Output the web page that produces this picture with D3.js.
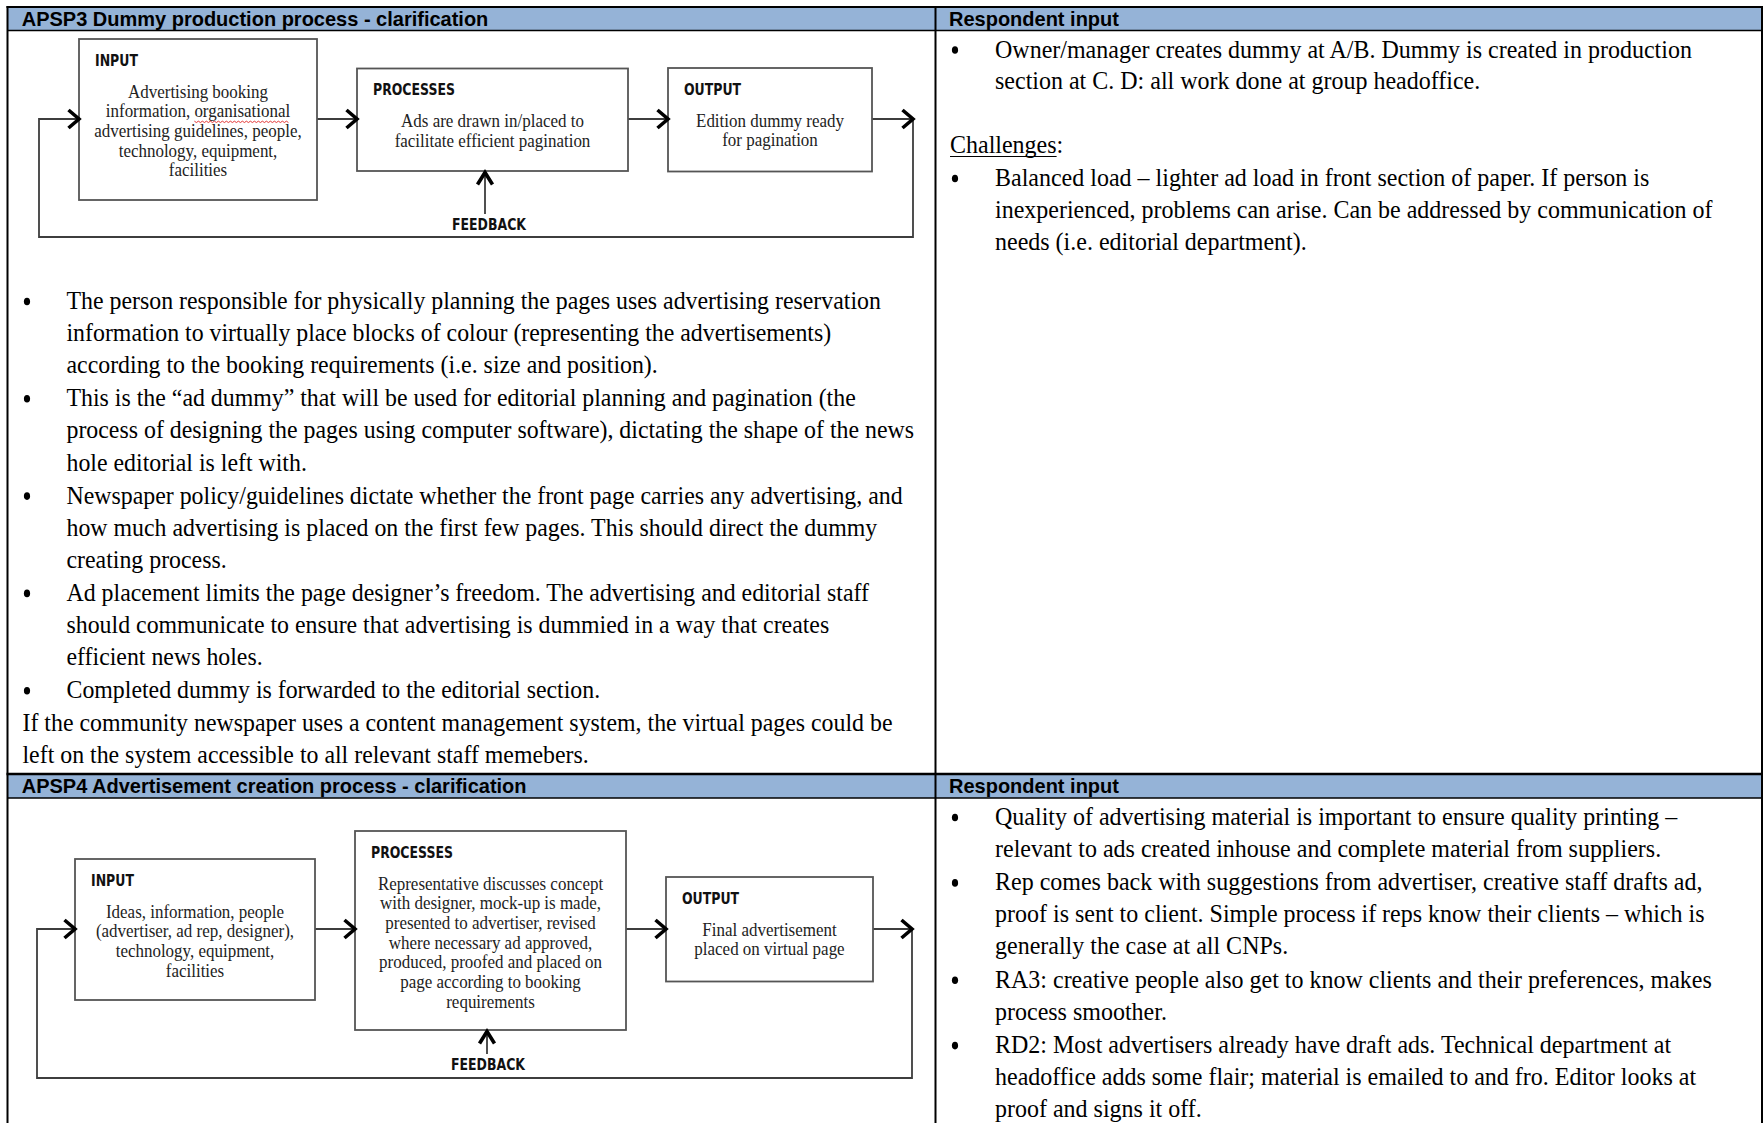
<!DOCTYPE html>
<html><head><meta charset="utf-8">
<script src="https://cdn.jsdelivr.net/npm/d3@7"></script>
<style>html,body{margin:0;padding:0;background:#fff;overflow:hidden}</style>
</head><body>
<svg id="c" width="1763" height="1123"></svg>
<script>
// ---------------- DATA (text content) ----------------
const sectionTitles = ["APSP3 Dummy production process - clarification",
                       "APSP4 Advertisement creation process - clarification"];
const respondentTitle = "Respondent input";
const boxTitles = ["INPUT", "PROCESSES", "OUTPUT"];
const feedbackLabel = "FEEDBACK";

const d1Input = ["Advertising booking", "information, organisational", "advertising guidelines, people,",
                 "technology, equipment,", "facilities"];
const d1Process = ["Ads are drawn in/placed to", "facilitate efficient pagination"];
const d1Output = ["Edition dummy ready", "for pagination"];

const d2Input = ["Ideas, information, people", "(advertiser, ad rep, designer),", "technology, equipment,", "facilities"];
const d2Process = ["Representative discusses concept", "with designer, mock-up is made,", "presented to advertiser, revised",
                   "where necessary ad approved,", "produced, proofed and placed on", "page according to booking",
                   "requirements"];
const d2Output = ["Final advertisement", "placed on virtual page"];

const s1Bullets = [
  ["The person responsible for physically planning the pages uses advertising reservation",
   "information to virtually place blocks of colour (representing the advertisements)",
   "according to the booking requirements (i.e. size and position)."],
  ["This is the \u201cad dummy\u201d that will be used for editorial planning and pagination (the",
   "process of designing the pages using computer software), dictating the shape of the news",
   "hole editorial is left with."],
  ["Newspaper policy/guidelines dictate whether the front page carries any advertising, and",
   "how much advertising is placed on the first few pages. This should direct the dummy",
   "creating process."],
  ["Ad placement limits the page designer\u2019s freedom. The advertising and editorial staff",
   "should communicate to ensure that advertising is dummied in a way that creates",
   "efficient news holes."],
  ["Completed dummy is forwarded to the editorial section."]
];
const s1Note = ["If the community newspaper uses a content management system, the virtual pages could be",
                "left on the system accessible to all relevant staff memebers."];

const r1Intro = [["Owner/manager creates dummy at A/B. Dummy is created in production",
                  "section at C. D: all work done at group headoffice."]];
const r1ChallengesLabel = "Challenges";
const r1Challenges = [["Balanced load \u2013 lighter ad load in front section of paper. If person is",
                       "inexperienced, problems can arise. Can be addressed by communication of",
                       "needs (i.e. editorial department)."]];

const r2Bullets = [
  ["Quality of advertising material is important to ensure quality printing \u2013",
   "relevant to ads created inhouse and complete material from suppliers."],
  ["Rep comes back with suggestions from advertiser, creative staff drafts ad,",
   "proof is sent to client. Simple process if reps know their clients \u2013 which is",
   "generally the case at all CNPs."],
  ["RA3: creative people also get to know clients and their preferences, makes",
   "process smoother."],
  ["RD2: Most advertisers already have draft ads. Technical department at",
   "headoffice adds some flair; material is emailed to and fro. Editor looks at",
   "proof and signs it off."]
];

// ---------------- STYLE / LAYOUT ----------------
const SERIF = "'Liberation Serif','Times New Roman',serif";
const SANS = "'Liberation Sans',Arial,sans-serif";
const COND = "'Liberation Sans Narrow','DejaVu Sans Condensed','Arial Narrow',sans-serif";
const HEADER_FILL = "#95b3d7";
const TALL = 1.09;      // vertical stretch to mimic Garamond proportions
const TITLE_TALL = 1.2; // vertical stretch for condensed titles

const svg = d3.select("#c");
svg.append("rect").attr("width", 1763).attr("height", 1123).attr("fill", "#fff");

function fitSize(text, family, weight, target) {
  const t = svg.append("text").attr("font-family", family).attr("font-weight", weight)
    .attr("font-size", 100).text(text);
  const w = t.node().getComputedTextLength();
  t.remove();
  return 100 * target / w;
}

const headerSize = fitSize(sectionTitles[0], SANS, "bold", 467);
const bodySize = fitSize(s1Bullets[0][0], SERIF, "normal", 815);
const bodySizeR = bodySize * 1.006;
const diagSize = fitSize(d1Input[0], SERIF, "normal", 140);
const titleSize = fitSize(boxTitles[1], COND, "bold", 82);

function sText(parent, x, y, str, opts) {
  const k = opts.k || 1;
  const t = parent.append("text")
    .attr("transform", `translate(${x},${y}) scale(${1 / k},1)`)
    .attr("x", 0).attr("y", 0)
    .attr("font-family", opts.family).attr("font-weight", opts.weight || "normal")
    .attr("font-size", opts.size * k).attr("fill", opts.fill || "#000")
    .attr("text-anchor", opts.anchor || "start").text(str);
  return t;
}

// table geometry
const X = d3.scaleLinear().domain([0, 1]).range([7.5, 1762]);
const colX = 935.5;
const rows = [{top: 7, hb: 30.5}, {top: 774, hb: 798}];

const g = svg.append("g");

rows.forEach(r => {
  g.append("rect").attr("x", X(0)).attr("y", r.top).attr("width", X(1) - X(0))
    .attr("height", r.hb - r.top).attr("fill", HEADER_FILL);
});
rows.forEach((r, i) => {
  g.append("line").attr("x1", X(0) - 1).attr("x2", X(1) + 1).attr("y1", r.top).attr("y2", r.top)
    .attr("stroke", "#000").attr("stroke-width", i === 0 ? 2.2 : 2.5);
  g.append("line").attr("x1", X(0)).attr("x2", X(1)).attr("y1", r.hb).attr("y2", r.hb)
    .attr("stroke", "#000").attr("stroke-width", 1.6);
});
[X(0), colX, X(1)].forEach(x => {
  g.append("line").attr("x1", x).attr("x2", x).attr("y1", 6).attr("y2", 1123)
    .attr("stroke", "#000").attr("stroke-width", 2);
});

rows.forEach((r, i) => {
  const by = r.hb - 4.6;
  sText(g, 21.7, by, sectionTitles[i], {family: SANS, weight: "bold", size: headerSize, k: 1.05});
  sText(g, 949, by, respondentTitle, {family: SANS, weight: "bold", size: headerSize, k: 1.05});
});

// ---------------- TEXT BLOCKS ----------------
function textBlock(paras, opts) {
  let y = opts.y0;
  paras.forEach((lines, pi) => {
    if (pi > 0) y += opts.gap;
    if (opts.bulletX != null) {
      g.append("ellipse").attr("cx", opts.bulletX).attr("cy", y - 7.5).attr("rx", 3.1).attr("ry", 3.8).attr("fill", "#000");
    }
    lines.forEach(ln => {
      sText(g, opts.x, y, ln, {family: SERIF, size: opts.size, k: TALL});
      y += opts.lh;
    });
  });
  return y;
}

let yEnd = textBlock(s1Bullets, {x: 66.5, bulletX: 27, y0: 309, lh: 32.1, gap: 1, size: bodySize});
textBlock([s1Note], {x: 22.5, bulletX: null, y0: yEnd + 1, lh: 31.5, gap: 0, size: bodySize});

textBlock(r1Intro, {x: 995, bulletX: 955, y0: 57.5, lh: 31.5, gap: 0, size: bodySizeR});
{
  const ch = sText(g, 950, 153, "", {family: SERIF, size: bodySizeR, k: TALL});
  ch.append("tspan").text(r1ChallengesLabel);
  ch.append("tspan").text(":");
  const w = ch.node().getSubStringLength(0, r1ChallengesLabel.length) / TALL;
  g.append("line").attr("x1", 950).attr("x2", 950 + w).attr("y1", 156.5).attr("y2", 156.5)
    .attr("stroke", "#000").attr("stroke-width", 1.2);
}
textBlock(r1Challenges, {x: 995, bulletX: 955, y0: 186, lh: 32, gap: 0, size: bodySizeR});
textBlock(r2Bullets, {x: 995, bulletX: 955, y0: 825, lh: 31.9, gap: 1.6, size: bodySizeR});

// ---------------- DIAGRAMS ----------------
const diagrams = [
  {boxes: [[79, 317, 39, 200], [357, 628, 68.5, 171], [668, 872, 68, 171.5]],
   texts: [d1Input, d1Process, d1Output],
   arrowY: 119, loopL: 39, loopR: 913, loopB: 237, fbX: 485, fbBottom: 214, fbLabelX: 489, fbLabelY: 230},
  {boxes: [[75, 315, 859, 1000], [355, 626, 831, 1030], [666, 873, 877, 981.5]],
   texts: [d2Input, d2Process, d2Output],
   arrowY: 929, loopL: 37, loopR: 912, loopB: 1078, fbX: 487, fbBottom: 1054, fbLabelX: 488, fbLabelY: 1070}
];

const LINE = "#3d3d3d";
function chevron(tipX, tipY, dir) {
  let p;
  if (dir === "right") p = [[tipX - 10.5, tipY - 9], [tipX, tipY], [tipX - 10.5, tipY + 9]];
  else p = [[tipX - 7.5, tipY + 12], [tipX, tipY], [tipX + 7.5, tipY + 12]];
  g.append("path").attr("d", d3.line()(p)).attr("fill", "none").attr("stroke", "#000")
    .attr("stroke-width", 3.6).attr("stroke-linejoin", "miter").attr("stroke-linecap", "butt");
}

diagrams.forEach(D => {
  const dg = g.append("g");
  const [bi, bp, bo] = D.boxes;
  dg.append("path").attr("d", d3.line()([[bo[1], D.arrowY], [D.loopR, D.arrowY], [D.loopR, D.loopB],
      [D.loopL, D.loopB], [D.loopL, D.arrowY], [bi[0], D.arrowY]]))
    .attr("fill", "none").attr("stroke", LINE).attr("stroke-width", 1.8);
  [[bi[1], bp[0]], [bp[1], bo[0]]].forEach(([a, b]) => {
    dg.append("line").attr("x1", a).attr("x2", b).attr("y1", D.arrowY).attr("y2", D.arrowY)
      .attr("stroke", LINE).attr("stroke-width", 1.8);
  });
  D.boxes.forEach((b, i) => {
    dg.append("rect").attr("x", b[0]).attr("y", b[2]).attr("width", b[1] - b[0]).attr("height", b[3] - b[2])
      .attr("fill", "#fff").attr("stroke", "#555").attr("stroke-width", 1.8);
    sText(dg, b[0] + 16, b[2] + 26.5, boxTitles[i], {family: COND, weight: "bold", size: titleSize, k: TITLE_TALL, fill: "#111"});
    const cx = (b[0] + b[1]) / 2;
    D.texts[i].forEach((ln, li) => {
      sText(dg, cx, b[2] + 58.5 + li * 19.7, ln, {family: SERIF, size: diagSize, k: TALL, anchor: "middle", fill: "#222"});
    });
  });
  chevron(bi[0], D.arrowY, "right");
  chevron(bp[0], D.arrowY, "right");
  chevron(bo[0], D.arrowY, "right");
  chevron(D.loopR, D.arrowY, "right");
  dg.append("line").attr("x1", D.fbX).attr("x2", D.fbX).attr("y1", bp[3]).attr("y2", D.fbBottom)
    .attr("stroke", LINE).attr("stroke-width", 1.8);
  chevron(D.fbX, bp[3] + 1.5, "up");
  sText(dg, D.fbLabelX, D.fbLabelY, feedbackLabel, {family: COND, weight: "bold", size: titleSize, k: TITLE_TALL, anchor: "middle", fill: "#111"});
});

// spell-check squiggle under "organisational" (diagram 1, input line 2)
{
  const b = diagrams[0].boxes[0];
  const cx = (b[0] + b[1]) / 2, y = b[2] + 58.5 + 19.7;
  const t = svg.append("text").attr("font-family", SERIF).attr("font-size", diagSize).text(d1Input[1]);
  const total = t.node().getComputedTextLength();
  const idx = d1Input[1].indexOf("organisational");
  const pre = t.node().getSubStringLength(0, idx);
  const wlen = t.node().getSubStringLength(idx, "organisational".length);
  t.remove();
  const x0 = cx - total / 2 + pre, x1 = x0 + wlen;
  const pts = [];
  for (let x = x0, k = 0; x <= x1; x += 2, k++) pts.push([x, y + 4 + (k % 2 ? 1.3 : 0)]);
  g.append("path").attr("d", d3.line()(pts)).attr("fill", "none").attr("stroke", "#e02020").attr("stroke-width", 0.9);
}
</script>
</body></html>
